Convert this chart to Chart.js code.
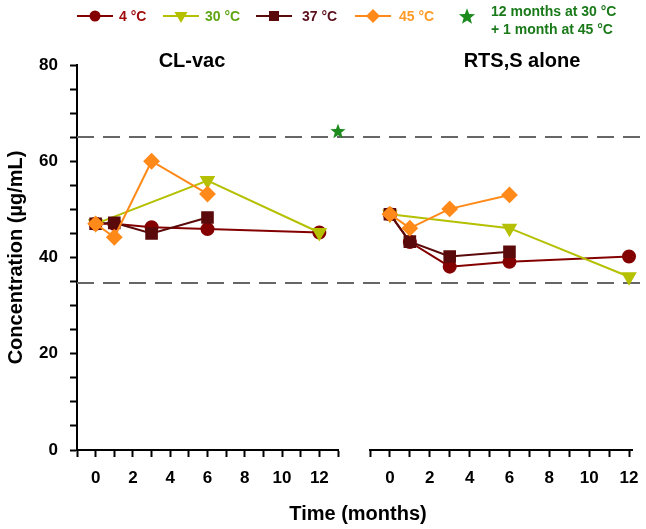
<!DOCTYPE html>
<html>
<head>
<meta charset="utf-8">
<script src="https://cdn.jsdelivr.net/npm/chart.js@4.4.1/dist/chart.umd.min.js"></script>
<style>
  body { margin: 0; background: #fff; }
  #wrap { position: relative; width: 646px; height: 529px; font-family: "Liberation Sans", Arial, sans-serif; font-weight: bold; }
  #wrap canvas { position: absolute; top: 0; }
  .txt { position: absolute; white-space: nowrap; line-height: 1; }
  .ttl { font-size: 20px; color: #000; transform: translateX(-50%); }
  .leg { font-size: 14px; }
  svg { position: absolute; }
</style>
</head>
<body>
<div id="wrap">
  <canvas id="left" width="646" height="529" style="left:0"></canvas>
  <canvas id="right" width="308" height="529" style="left:338px"></canvas>

  <div class="txt ttl" style="left:192px; top:50px">CL-vac</div>
  <div class="txt ttl" style="left:522px; top:50px">RTS,S alone</div>
  <div class="txt ttl" style="left:358px; top:503px">Time (months)</div>

  <div id="legend"></div>
</div>
<script>
// data
const MONTHS_4 = [0, 1, 3, 6, 12];
const MONTHS_30 = [0, 6, 12];
const MONTHS_37 = [0, 1, 3, 6];
const MONTHS_45 = [0, 1, 3, 6];

const CLVAC_4 = [47, 47, 46.3, 45.9, 45.2];
const CLVAC_30 = [47, 56, 45.2];
const CLVAC_37 = [47, 47.2, 45, 48.3];
const CLVAC_45 = [47, 44.2, 60, 53.2];

const RTSS_4 = [49, 43.2, 38.1, 39.1, 40.2];
const RTSS_30 = [49, 46.1, 36];
const RTSS_37 = [49, 43.3, 40.2, 41.2];
const RTSS_45 = [49, 46.1, 50.1, 53];

const STAR_MONTH = [13];
const STAR_VALUE = [66.3];

const LIMITS = [65, 34.8];
const Y_LABELS = [0, 20, 40, 60, 80];
const X_LABELS = [0, 2, 4, 6, 8, 10, 12];

const SERIES = [
  { name: "4 °C", color: "#840000", text: "#a00c0c", style: "circle", r: 6, rot: 0 },
  { name: "30 °C", color: "#b4c000", text: "#60a414", style: "triangle", r: 7, rot: 180 },
  { name: "37 °C", color: "#5a0a0a", text: "#5a0f1c", style: "rect", r: 7.5, rot: 0 },
  { name: "45 °C", color: "#ff8a1a", text: "#ff9a26", style: "rectRot", r: 7, rot: 0 }
];
const STAR_COLOR = "#1c8a1c";
const STAR_TEXT = ["12 months at 30 °C", "+ 1 month at 45 °C"];

Chart.defaults.font.family = '"Liberation Sans", Arial, sans-serif';
Chart.defaults.font.weight = "bold";
Chart.defaults.color = "#000";

function pairs(xs, ys) {
  return xs.map((x, i) => ({ x, y: ys[i] }));
}

// filled five-point star used as the marker image
function starImage(size, color) {
  const c = document.createElement("canvas");
  c.width = size; c.height = size;
  const g = c.getContext("2d");
  const cx = size / 2, cy = size / 2 + 0.8, R = size / 2, r = R * 0.42;
  g.beginPath();
  for (let i = 0; i < 10; i++) {
    const a = -Math.PI / 2 + i * Math.PI / 5;
    const rr = i % 2 ? r : R;
    g.lineTo(cx + rr * Math.cos(a), cy + rr * Math.sin(a));
  }
  g.closePath();
  g.fillStyle = color;
  g.fill();
  return c;
}
const STAR_IMG = starImage(16, STAR_COLOR);

function series(s, i, months, values) {
  return {
    label: s.name,
    data: pairs(months, values),
    borderColor: s.color,
    backgroundColor: s.color,
    pointBackgroundColor: s.color,
    pointBorderColor: s.color,
    pointStyle: s.style,
    pointRadius: s.r,
    pointRotation: s.rot,
    borderWidth: 2,
    tension: 0,
    clip: false,
    order: 4 - i
  };
}

const refLines = {
  id: "refLines",
  beforeDatasetsDraw(chart) {
    const { ctx, chartArea, scales } = chart;
    ctx.save();
    ctx.strokeStyle = "#666";
    ctx.lineWidth = 2;
    ctx.setLineDash([17, 9]);
    LIMITS.forEach((v) => {
      const py = Math.round(scales.y.getPixelForValue(v));
      ctx.beginPath();
      ctx.moveTo(chartArea.left, py);
      ctx.lineTo(chart.width, py);
      ctx.stroke();
    });
    ctx.restore();
  }
};

function xScale(min, max) {
  return {
    type: "linear",
    min, max,
    border: { color: "#000", width: 2 },
    grid: { drawOnChartArea: false, drawTicks: true, tickLength: 7, tickWidth: 2, tickColor: "#000" },
    ticks: {
      stepSize: 1,
      includeBounds: false,
      autoSkip: false,
      maxRotation: 0,
      padding: 11,
      font: { size: 17, weight: "bold" },
      color: "#000",
      callback: (v) => (X_LABELS.includes(v) ? String(v) : "")
    },
    afterBuildTicks: (s) => { s.ticks = s.ticks.filter((t) => Number.isInteger(t.value)); },
    afterFit: (s) => { s.height = 79; s.paddingLeft = 0; s.paddingRight = 0; }
  };
}

const yCommon = {
  min: 0, max: 80,
  ticks: { stepSize: 5 }
};

new Chart(document.getElementById("left"), {
  type: "line",
  data: {
    datasets: [
      series(SERIES[0], 0, MONTHS_4, CLVAC_4),
      series(SERIES[1], 1, MONTHS_30, CLVAC_30),
      series(SERIES[2], 2, MONTHS_37, CLVAC_37),
      series(SERIES[3], 3, MONTHS_45, CLVAC_45),
      {
        label: STAR_TEXT.join(" "),
        data: pairs(STAR_MONTH, STAR_VALUE),
        showLine: false,
        pointStyle: STAR_IMG,
        pointRadius: 8,
        clip: false,
        order: -1
      }
    ]
  },
  options: {
    responsive: false,
    animation: false,
    layout: { padding: { top: 65, right: 308, left: 0, bottom: 0 } },
    plugins: { legend: { display: false }, tooltip: { enabled: false } },
    scales: {
      x: xScale(-1, 13),
      y: {
        type: "linear",
        min: yCommon.min, max: yCommon.max,
        border: { color: "#000", width: 2 },
        grid: { drawOnChartArea: false, drawTicks: true, tickLength: 7, tickWidth: 2, tickColor: "#000" },
        ticks: {
          stepSize: yCommon.ticks.stepSize,
          autoSkip: false,
          padding: 12,
          font: { size: 17, weight: "bold" },
          color: "#000",
          callback: (v) => (Y_LABELS.includes(v) ? String(v) : "")
        },
        title: {
          display: true,
          text: "Concentration (µg/mL)",
          font: { size: 20, weight: "bold" },
          color: "#000",
          padding: { top: 4, bottom: 4 }
        },
        afterFit: (s) => { s.width = 77; }
      }
    }
  },
  plugins: [refLines]
});

new Chart(document.getElementById("right"), {
  type: "line",
  data: {
    datasets: [
      series(SERIES[0], 0, MONTHS_4, RTSS_4),
      series(SERIES[1], 1, MONTHS_30, RTSS_30),
      series(SERIES[2], 2, MONTHS_37, RTSS_37),
      series(SERIES[3], 3, MONTHS_45, RTSS_45)
    ]
  },
  options: {
    responsive: false,
    animation: false,
    layout: { padding: { top: 65, right: 14, left: 32, bottom: 0 } },
    plugins: { legend: { display: false }, tooltip: { enabled: false } },
    scales: {
      x: xScale(-1, 12.15),
      y: { type: "linear", display: false, min: yCommon.min, max: yCommon.max }
    }
  }
});

// legend (html)
const LEG_X = [77, 163, 256, 355];
const LEG_TEXT_X = [119, 205, 302, 399];
const LEG_Y = 16;
const legend = document.getElementById("legend");
const NS = "http://www.w3.org/2000/svg";

function markerSvg(s) {
  const cx = 18, cy = 8;
  let shape;
  if (s.style === "circle") shape = `<circle cx="${cx}" cy="${cy}" r="5.5" fill="${s.color}"/>`;
  else if (s.style === "rect") shape = `<rect x="${cx - 5}" y="${cy - 5}" width="10" height="10" fill="${s.color}"/>`;
  else if (s.style === "rectRot") shape = `<polygon points="${cx - 7},${cy} ${cx},${cy - 7} ${cx + 7},${cy} ${cx},${cy + 7}" fill="${s.color}"/>`;
  else shape = `<polygon points="${cx - 6.5},${cy - 4} ${cx + 6.5},${cy - 4} ${cx},${cy + 7}" fill="${s.color}"/>`;
  return `<line x1="0" y1="${cy}" x2="36" y2="${cy}" stroke="${s.color}" stroke-width="2"/>` + shape;
}

SERIES.forEach((s, i) => {
  const svg = document.createElementNS(NS, "svg");
  svg.setAttribute("width", 36);
  svg.setAttribute("height", 16);
  svg.style.left = LEG_X[i] + "px";
  svg.style.top = (LEG_Y - 8) + "px";
  svg.innerHTML = markerSvg(s);
  legend.appendChild(svg);
  const t = document.createElement("div");
  t.className = "txt leg";
  t.style.left = LEG_TEXT_X[i] + "px";
  t.style.top = (LEG_Y - 7) + "px";
  t.style.color = s.text;
  t.textContent = s.name;
  legend.appendChild(t);
});

const starSvg = document.createElementNS(NS, "svg");
starSvg.setAttribute("width", 18);
starSvg.setAttribute("height", 18);
starSvg.style.left = "458px";
starSvg.style.top = (LEG_Y - 9) + "px";
let pts = [];
for (let i = 0; i < 10; i++) {
  const a = -Math.PI / 2 + i * Math.PI / 5;
  const rr = i % 2 ? 3.6 : 8.5;
  pts.push((9 + rr * Math.cos(a)).toFixed(2) + "," + (9.8 + rr * Math.sin(a)).toFixed(2));
}
starSvg.innerHTML = `<polygon points="${pts.join(" ")}" fill="${STAR_COLOR}"/>`;
legend.appendChild(starSvg);

STAR_TEXT.forEach((line, i) => {
  const t = document.createElement("div");
  t.className = "txt leg";
  t.style.left = "491px";
  t.style.top = (4 + i * 18) + "px";
  t.style.color = "#1a7a1a";
  t.textContent = line;
  legend.appendChild(t);
});
</script>
</body>
</html>
